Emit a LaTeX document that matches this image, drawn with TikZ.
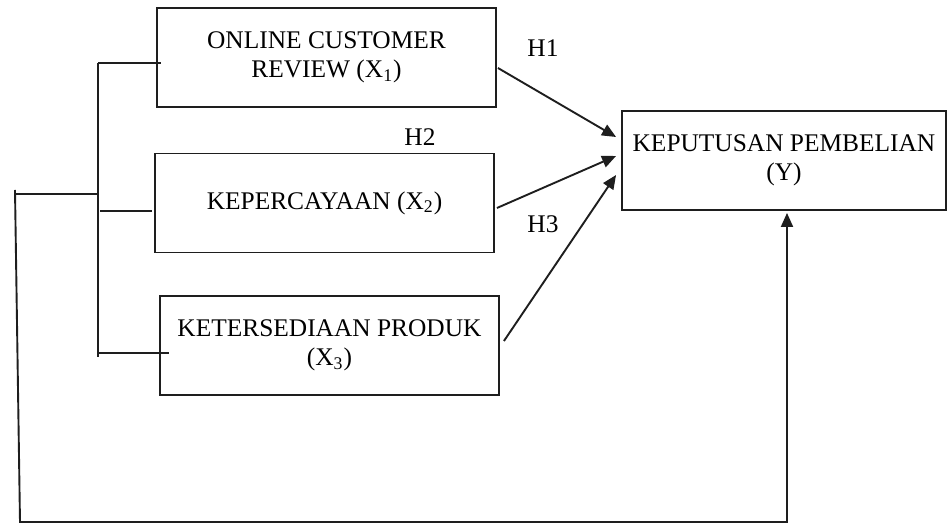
\documentclass[tikz,border=0pt]{standalone}
\usepackage{fontspec}
\setmainfont{Liberation Serif}
\usetikzlibrary{arrows.meta,positioning,calc}
\definecolor{lncol}{RGB}{30,30,30}
\tikzset{
  varbox/.style={draw=lncol, line width=0.95pt, minimum width=169.5pt, minimum height=49.5pt,
                 inner sep=0pt, align=center, font=\fontsize{12.7}{14.5}\selectfont},
  ybox/.style={varbox, minimum width=162pt},
  ln/.style={lncol, line width=0.95pt},
  hyparr/.style={-{Triangle[length=7pt,width=6pt]}, lncol, line width=0.95pt},
  hlab/.style={font=\fontsize{12.7}{14.5}\selectfont, inner sep=0pt},
}

\begin{document}
\begin{tikzpicture}[x=0.5pt, y=-0.5pt]
    \useasboundingbox (0,0) rectangle (949,523);
    % variables
    \node[varbox] (x1) at (326.5,57.5) {ONLINE CUSTOMER\\REVIEW (X\textsubscript{1})};
    \node[varbox] (x2) at (324.5,203) {KEPERCAYAAN (X\textsubscript{2})};
    \node[varbox] (x3) at (329.5,345.5) {KETERSEDIAAN PRODUK\\(X\textsubscript{3})};
    \node[ybox] (y) at (784,160.5) {KEPUTUSAN PEMBELIAN\\(Y)};
    % hypotheses
    \node[hlab] (h1) at (543,48) {H1};
    \node[hlab] (h2) at (420,137) {H2};
    \node[hlab] (h3) at (543,224) {H3};
    \coordinate (t1) at ($(y.west)+(-5,-23.5)$);
    \coordinate (t2) at ($(y.west)+(-5,-4.5)$);
    \coordinate (t3) at ($(y.west)+(-5,14.5)$);
    \draw[hyparr] ($(x1.east)+(1,10.5)$) -- (t1);
    \draw[hyparr] ($(x2.east)+(2,5)$) -- (t2);
    \draw[hyparr] ($(x3.east)+(4,-4.5)$) -- (t3);
    % bracket on the left
    \coordinate (bt) at (98,63);
    \coordinate (bb) at (98,357);
    \coordinate (bj) at (98,194);
    \draw[ln] (bt) -- (bb);
    \draw[ln] (bt) -- ($(x1.west)+(5,5.5)$);
    \draw[ln] (100,211) -- ($(x2.west)+(-2,8)$);
    \draw[ln] (bb |- 0,353) -- ($(x3.west)+(10,7.5)$);
    % simultaneous path
    \coordinate (fa) at (15,194);
    \coordinate (fb) at (20,522);
    \coordinate (fc) at (787,522);
    \draw[ln] (bj) -- (fa);
    \draw[hyparr] (15,190) -- (fb) -- (fc) -- ($(y.south)+(3,2)$);
\end{tikzpicture}
\end{document}
